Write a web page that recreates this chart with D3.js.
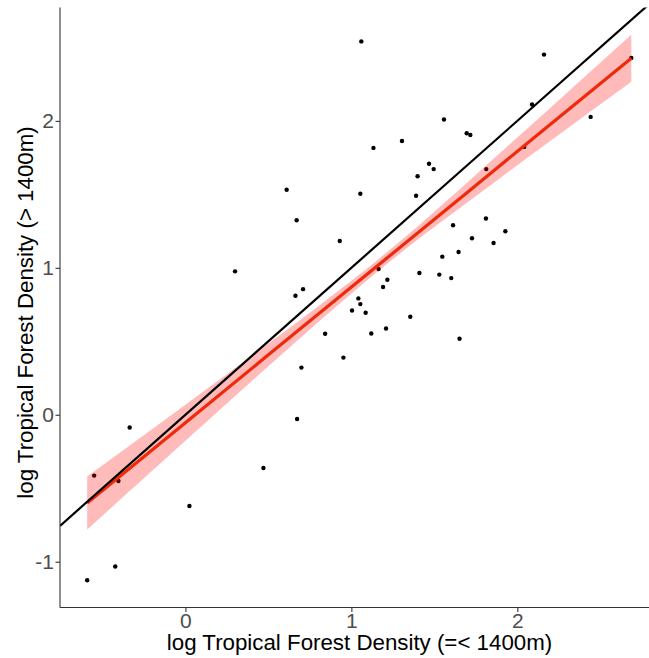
<!DOCTYPE html>
<html>
<head>
<meta charset="utf-8">
<script src="https://cdn.jsdelivr.net/npm/d3@7"></script>
<style>
  html, body { margin: 0; padding: 0; background: #ffffff; }
  svg { display: block; }
  text { font-family: "Liberation Sans", Arial, sans-serif; }
</style>
</head>
<body>
<svg id="chart" width="649" height="658"></svg>
<script>
// ---- data (log densities) ----
const lowDensity = [1.060,1.558,1.695,1.717,1.133,1.305,1.468,1.496,1.399,1.813,
  0.610,1.054,1.390,0.670,1.811,2.161,2.089,2.442,2.687,2.042,
  0.930,1.613,1.928,1.727,1.857,1.646,1.548,1.164,1.410,1.530,
  1.602,1.217,1.191,0.709,0.663,1.042,1.054,1.004,1.086,1.355,
  0.842,1.120,1.209,1.652,0.952,0.699,0.299,0.673,-0.336,-0.550,
  -0.404,0.024,0.470,-0.423,-0.592];
const highDensity = [2.541,2.009,1.916,1.904,1.816,1.863,1.708,1.672,1.623,1.672,
  1.531,1.504,1.490,1.324,1.336,2.451,2.111,2.027,2.428,1.823,
  1.183,1.290,1.249,1.201,1.169,1.108,1.076,0.992,0.965,0.954,
  0.930,0.919,0.869,0.855,0.810,0.792,0.753,0.710,0.694,0.667,
  0.551,0.553,0.587,0.517,0.389,0.321,0.976,-0.029,-0.087,-0.414,
  -0.451,-0.621,-0.362,-1.033,-1.126];
// fitted linear trend and its confidence band
const fitX     = [-0.592, 0.000, 0.500, 1.150, 1.700, 2.200, 2.687];
const fitY     = [-0.600, -0.054, 0.408, 1.007, 1.515, 1.977, 2.426];
const fitLower = [-0.780, -0.177, 0.331, 0.967, 1.447, 1.864, 2.266];
const fitUpper = [-0.420, 0.069, 0.485, 1.047, 1.583, 2.090, 2.586];
const xTicks = [0, 1, 2];
const yTicks = [-1, 0, 1, 2];
const xTitle = "log Tropical Forest Density (=< 1400m)";
const yTitle = "log Tropical Forest Density (> 1400m)";

(function () {
const fit = fitX.map((v, i) => ({ x: v, y: fitY[i], lo: fitLower[i], hi: fitUpper[i] }));

// ---- scales (ggplot-like 5% expansion) ----
const svg = d3.select("#chart");
const pLeft = 60, pTop = 7.5, pBottom = 607.5;
const [xmin, xmax] = d3.extent(lowDensity);
const xpad = (xmax - xmin) * 0.05;
const yLo = Math.min(d3.min(highDensity), d3.min(fitLower));
const yHi = Math.max(d3.max(highDensity), d3.max(fitUpper));
const ypad = (yHi - yLo) * 0.05;
const x = d3.scaleLinear().domain([xmin - xpad, xmax + xpad]).range([pLeft, 658.5]);
const y = d3.scaleLinear().domain([yLo - ypad, yHi + ypad]).range([pBottom, pTop]);

const plot = svg.append("g");
svg.append("clipPath").attr("id", "clip").append("rect")
  .attr("x", pLeft).attr("y", pTop).attr("width", 649 - pLeft).attr("height", pBottom - pTop);
const inner = plot.append("g").attr("clip-path", "url(#clip)");

// points
inner.append("g").selectAll("circle").data(lowDensity).join("circle")
  .attr("cx", d => x(d)).attr("cy", (d, i) => y(highDensity[i]))
  .attr("r", 2.2).attr("fill", "#000");

// confidence band
inner.append("path").datum(fit)
  .attr("d", d3.area().curve(d3.curveNatural).x(d => x(d.x)).y0(d => y(d.lo)).y1(d => y(d.hi)))
  .attr("fill", "rgba(255,0,0,0.27)");

// fitted line
inner.append("path").datum(fit)
  .attr("d", d3.line().x(d => x(d.x)).y(d => y(d.y)))
  .attr("fill", "none").attr("stroke", "#ee2a0a").attr("stroke-width", 3.2);

// identity line y = x
const xd = x.domain();
inner.append("line")
  .attr("x1", x(xd[0])).attr("y1", y(xd[0]))
  .attr("x2", x(xd[1])).attr("y2", y(xd[1]))
  .attr("stroke", "#000").attr("stroke-width", 2.2);

// axes (plain hyphen minus like the reference)
const fmt = d => String(d);
const xAxis = plot.append("g").attr("transform", `translate(0,${pBottom})`)
  .call(d3.axisBottom(x).tickValues(xTicks).tickSize(4.5).tickPadding(1).tickFormat(fmt));
xAxis.select(".domain").attr("d", `M${pLeft},0H649`);
const yAxis = plot.append("g").attr("transform", `translate(${pLeft},0)`)
  .call(d3.axisLeft(y).tickValues(yTicks).tickSize(4.5).tickPadding(1.5).tickFormat(fmt));
yAxis.select(".domain").attr("d", `M0,${pTop}V${pBottom}`);
[xAxis, yAxis].forEach(a => {
  a.select(".domain").attr("stroke", "#333").attr("stroke-width", 1.1);
  a.selectAll(".tick line").attr("stroke", "#333").attr("stroke-width", 1.1);
  a.selectAll(".tick text").attr("fill", "#4d4d4d").style("font-size", "21px")
    .style("font-family", "'Liberation Sans', Arial, sans-serif");
});

// titles
svg.append("text").attr("x", 359.5).attr("y", 649.5).attr("text-anchor", "middle")
  .attr("fill", "#000").style("font-size", "22.3px").text(xTitle);
svg.append("text").attr("transform", "translate(32.5,312.5) rotate(-90)").attr("text-anchor", "middle")
  .attr("fill", "#000").style("font-size", "22.3px").text(yTitle);
})();
</script>
</body>
</html>
